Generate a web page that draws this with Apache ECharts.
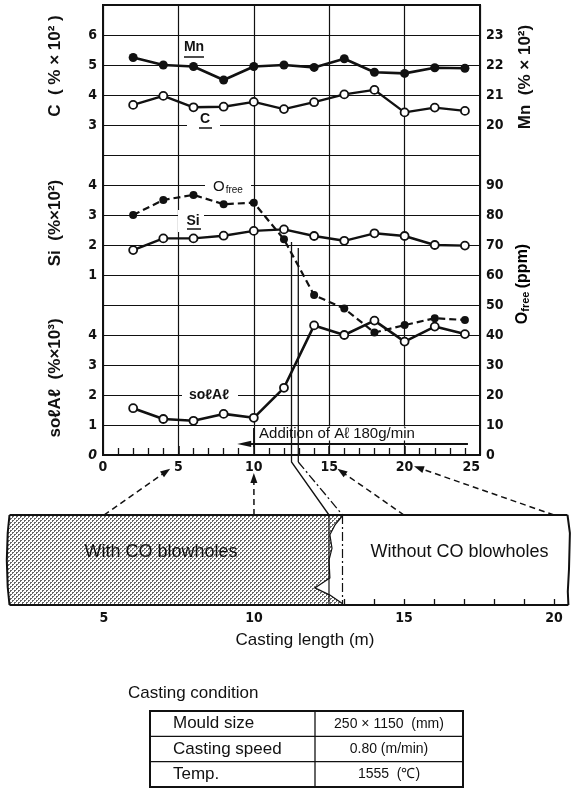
<!DOCTYPE html>
<html>
<head>
<meta charset="utf-8">
<script src="https://cdn.jsdelivr.net/npm/echarts@6/dist/echarts.min.js"></script>
<style>
  html, body { margin: 0; padding: 0; background: #fff; }
  #chart { width: 575px; height: 789px; }
</style>
</head>
<body>
<div id="chart"></div>
<script>
// Sampling positions along the strand (upper length axis)
const castPos = [2, 4, 6, 8, 10, 12, 14, 16, 18, 20, 22, 24];
// Analysed contents at each sampling position
const mnVals    = [22.25, 22.0, 21.95, 21.5, 21.95, 22.0, 21.92, 22.21, 21.76, 21.72, 21.91, 21.89];
const cVals     = [3.67, 3.97, 3.59, 3.61, 3.77, 3.53, 3.76, 4.02, 4.17, 3.42, 3.58, 3.47];
const siVals    = [1.83, 2.22, 2.22, 2.31, 2.47, 2.52, 2.30, 2.14, 2.39, 2.30, 2.00, 1.98];
const oFreeVals = [80, 85, 86.7, 83.6, 84.1, 71.9, 53.3, 48.8, 40.8, 43.3, 45.6, 45];
const solAlVals = [1.56, 1.20, 1.14, 1.37, 1.24, 2.24, 4.32, 4.00, 4.48, 3.78, 4.28, 4.03];

// Tick labels shown on each scale
const lengthTicks = [0, 5, 10, 15, 20, 25];
const cTicks  = [3, 4, 5, 6];
const mnTicks = [20, 21, 22, 23];
const siTicks = [1, 2, 3, 4];
const oTicks  = [0, 10, 20, 30, 40, 50, 60, 70, 80, 90];
const alTicks = [0, 1, 2, 3, 4];
const slabTicks  = [5, 10, 15, 20];
const slabMeters = [2, 3, 4, 5, 6, 7, 8, 9, 10, 11, 12, 13, 14, 15, 16, 17, 18, 19, 20];

// Slab sketch: extent (m), the two transition lines (m) and the blowhole front [m, fraction of thickness]
const slabSpan = [1.85, 20.5];
const coBoundary = [12.5, 12.95];
const blowholeFront = [[12.97, 1], [12.7, 0.89], [12.53, 0.78], [12.6, 0.63], [12.5, 0.5],
                       [12.53, 0.3], [12.03, 0.19], [12.53, 0.11], [12.93, 0.02], [12.97, 0]];
// Sample positions linked between the slab and the upper axis
const arrowLinks = [5, 10, 15, 20];
// Al addition: start of feeding and arrow extent on the upper axis
const alAddStart = 10;
const alArrow = [8.9, 24.2];

const INK = '#111';
const FONT_NUM = "'Liberation Sans Narrow','DejaVu Sans Condensed','Liberation Sans',sans-serif";
const FONT_TXT = "'Liberation Sans','Arial','Helvetica',sans-serif";

function numLabel(list, extra) {
  return Object.assign({
    color: INK, fontFamily: FONT_NUM, fontWeight: 'bold', fontSize: 14, margin: 6,
    formatter: v => (list.indexOf(v) >= 0 ? String(v) : '')
  }, extra || {});
}

function yAx(min, max, interval, list, pos, extra) {
  return Object.assign({
    type: 'value', gridIndex: 0, min: min, max: max, interval: interval, position: pos,
    axisLine: { show: false }, axisTick: { show: false }, splitLine: { show: false },
    axisLabel: numLabel(list)
  }, extra || {});
}

// Fine halftone dots for the blowhole zone
function stipple() {
  const c = document.createElement('canvas');
  c.width = 4; c.height = 4;
  const g = c.getContext('2d');
  g.fillStyle = '#fff'; g.fillRect(0, 0, 4, 4);
  g.fillStyle = '#666';
  g.fillRect(0, 0, 2, 1); g.fillRect(0, 1, 1, 1);
  g.fillRect(2, 2, 2, 1); g.fillRect(2, 3, 1, 1);
  return c;
}
const stipplePattern = { image: stipple(), repeat: 'repeat' };

const pts = vals => castPos.map((x, i) => [x, vals[i]]);
const openSym = { symbol: 'circle', symbolSize: 8, showAllSymbol: true,
  itemStyle: { color: '#fff', borderColor: INK, borderWidth: 1.8 } };

function renderSlab(params, api) {
  const p = (x, f) => api.coord([x, f]);
  const x0 = slabSpan[0], x1 = slabSpan[1];
  const leftEdge = [[x0, 1], [x0 - 0.06, 0.8], [x0 - 0.09, 0.5], [x0 - 0.06, 0.2], [x0, 0]];
  const rightEdge = [[x1 - 0.05, 1], [x1 + 0.03, 0.8], [x1, 0.4], [x1 - 0.04, 0.15], [x1 - 0.02, 0]];
  const front = blowholeFront.slice();
  const poly = leftEdge.concat(front.slice().reverse()).map(q => p(q[0], q[1]));
  const children = [
    { type: 'polygon', shape: { points: poly }, style: { fill: stipplePattern, stroke: null } },
    { type: 'polyline', shape: { points: front.map(q => p(q[0], q[1])) },
      style: { stroke: INK, lineWidth: 1.2, fill: null } },
    { type: 'line', shape: { x1: p(coBoundary[0], 1)[0], y1: p(0, 1)[1], x2: p(coBoundary[0], 0)[0], y2: p(0, 0)[1] },
      style: { stroke: INK, lineWidth: 1.2 } },
    { type: 'line', shape: { x1: p(coBoundary[1], 1)[0], y1: p(0, 1)[1], x2: p(coBoundary[1], 0)[0], y2: p(0, 0)[1] },
      style: { stroke: INK, lineWidth: 1.2, lineDash: [9, 3, 2, 3] } },
    { type: 'polyline', shape: { points: leftEdge.map(q => p(q[0], q[1])) }, style: { stroke: INK, lineWidth: 2, fill: null } },
    { type: 'polyline', shape: { points: rightEdge.map(q => p(q[0], q[1])) }, style: { stroke: INK, lineWidth: 2, fill: null } },
    { type: 'line', shape: { x1: p(x0, 1)[0], y1: p(x0, 1)[1], x2: p(x1 - 0.05, 1)[0], y2: p(x1, 1)[1] },
      style: { stroke: INK, lineWidth: 2 } },
    { type: 'line', shape: { x1: p(x0, 0)[0], y1: p(x0, 0)[1], x2: p(x1 - 0.02, 0)[0], y2: p(x1, 0)[1] },
      style: { stroke: INK, lineWidth: 2 } },
    { type: 'text', x: p(6.9, 0.59)[0], y: p(6.9, 0.59)[1],
      style: { text: 'With CO blowholes', fill: INK, fontSize: 18, fontFamily: FONT_TXT, align: 'center', verticalAlign: 'middle' } },
    { type: 'text', x: p(16.85, 0.59)[0], y: p(16.85, 0.59)[1],
      style: { text: 'Without CO blowholes', fill: INK, fontSize: 18, fontFamily: FONT_TXT, align: 'center', verticalAlign: 'middle' } }
  ];
  return { type: 'group', children: children };
}

const chart = echarts.init(document.getElementById('chart'), null, { renderer: 'canvas' });

const option = {
  animation: false,
  backgroundColor: '#fff',
  grid: [
    { left: 103, top: 5, width: 377, height: 450, show: true, borderColor: INK, borderWidth: 2, backgroundColor: 'transparent' },
    { left: 5, top: 515, width: 570, height: 90, show: false }
  ],
  xAxis: [
    { type: 'value', gridIndex: 0, min: 0, max: 25, interval: 5,
      axisLine: { lineStyle: { color: INK, width: 2 } },
      axisTick: { inside: true, length: 9, lineStyle: { color: INK, width: 1.5 } },
      minorTick: { show: true, splitNumber: 5, length: 7, lineStyle: { color: INK, width: 1.3 } },
      splitLine: { show: true, lineStyle: { color: INK, width: 1.2 } },
      axisLabel: numLabel(lengthTicks, { margin: 5, alignMaxLabel: 'right' }) },
    { type: 'value', gridIndex: 1, min: 1.7, max: 20.7,
      axisLine: { show: false },
      axisTick: { show: true, inside: true, length: 6, customValues: slabMeters, lineStyle: { color: INK, width: 1.3 } },
      splitLine: { show: false },
      axisLabel: Object.assign(numLabel(slabTicks, { margin: 6 }), { customValues: slabTicks }) }
  ],
  yAxis: [
    { type: 'value', gridIndex: 0, min: 0, max: 15, interval: 1,
      axisLine: { show: false }, axisTick: { show: false }, axisLabel: { show: false },
      splitLine: { show: true, lineStyle: { color: INK, width: 1.2 } } },
    yAx(-8, 7, 1, cTicks, 'left', { axisLine: { show: true, lineStyle: { color: INK, width: 2 } } }),
    yAx(-5, 10, 1, siTicks, 'left'),
    yAx(0, 15, 1, alTicks, 'left', {
      axisLabel: {
        color: INK, fontFamily: FONT_NUM, fontWeight: 'bold', fontSize: 14, margin: 6,
        formatter: v => (v === 0 ? '{i|0}' : (alTicks.indexOf(v) >= 0 ? String(v) : '')),
        rich: { i: { fontStyle: 'italic', fontWeight: 'bold', fontSize: 14, fontFamily: FONT_NUM, color: INK } }
      }
    }),
    yAx(9, 24, 1, mnTicks, 'right', { axisLine: { show: true, lineStyle: { color: INK, width: 2 } } }),
    yAx(0, 150, 10, oTicks, 'right'),
    { type: 'value', gridIndex: 1, min: 0, max: 1, show: false }
  ],
  series: [
    { type: 'line', name: 'Mn', xAxisIndex: 0, yAxisIndex: 4, data: pts(mnVals),
      symbol: 'circle', symbolSize: 9, showAllSymbol: true, itemStyle: { color: INK },
      lineStyle: { color: INK, width: 2.6 }, z: 4 },
    Object.assign({ type: 'line', name: 'C', xAxisIndex: 0, yAxisIndex: 1, data: pts(cVals),
      lineStyle: { color: INK, width: 2.4 }, z: 4 }, openSym),
    Object.assign({ type: 'line', name: 'Si', xAxisIndex: 0, yAxisIndex: 2, data: pts(siVals),
      lineStyle: { color: INK, width: 2.4 }, z: 4 }, openSym),
    { type: 'line', name: 'Ofree', xAxisIndex: 0, yAxisIndex: 5, data: pts(oFreeVals),
      symbol: 'circle', symbolSize: 8, showAllSymbol: true, itemStyle: { color: INK },
      lineStyle: { color: INK, width: 2.2, type: [7, 4] }, z: 3 },
    Object.assign({ type: 'line', name: 'solAl', xAxisIndex: 0, yAxisIndex: 3, data: pts(solAlVals),
      lineStyle: { color: INK, width: 2.6 }, z: 4 }, openSym),
    { type: 'custom', name: 'slab', xAxisIndex: 1, yAxisIndex: 6, data: [[slabSpan[0], 0]],
      renderItem: renderSlab, silent: true, z: 2 }
  ]
};
chart.setOption(option);

// Annotations anchored to the axes
const M = (x, y) => chart.convertToPixel({ xAxisIndex: 0, yAxisIndex: 0 }, [x, y]);
const S = (x, f) => chart.convertToPixel({ xAxisIndex: 1, yAxisIndex: 6 }, [x, f]);

function arrowHead(tip, ux, uy, len, half) {
  const bx = tip[0] - ux * len, by = tip[1] - uy * len;
  return { type: 'polygon', z: 6,
    shape: { points: [tip, [bx - uy * half, by + ux * half], [bx + uy * half, by - ux * half]] },
    style: { fill: INK } };
}
function label(x, y, text, size, extra) {
  return Object.assign({ type: 'text', x: x, y: y, z: 6,
    style: { text: text, fill: INK, fontSize: size, fontFamily: FONT_TXT, align: 'center', verticalAlign: 'middle' } }, extra || {});
}
function vLabel(x, y, text, size, rich) {
  return { type: 'text', x: x, y: y, rotation: Math.PI / 2, z: 6,
    style: { text: text, fill: INK, fontSize: size, fontWeight: 'bold', fontFamily: FONT_TXT,
      align: 'center', verticalAlign: 'middle', rich: rich } };
}
function whiteBox(x, y, w, h) {
  return { type: 'rect', z: 1, shape: { x: x, y: y, width: w, height: h }, style: { fill: '#fff' } };
}

const els = [];
const axisY = M(0, 0)[1];

// Transition lines running from the profiles down to the slab
const sTop = S(coBoundary[0], 1), dTop = S(coBoundary[1], 1);
const a0 = M(coBoundary[0], 7.1), a1 = M(coBoundary[0], 0);
const b0 = M(coBoundary[1], 6.9), b1 = M(coBoundary[1], 0);
els.push({ type: 'polyline', z: 5, shape: { points: [a0, a1, [a1[0], a1[1] + 7], sTop] },
  style: { stroke: INK, lineWidth: 1.3, fill: null } });
els.push({ type: 'polyline', z: 5, shape: { points: [b0, b1, [b1[0], b1[1] + 7]] },
  style: { stroke: INK, lineWidth: 1.3, fill: null } });
els.push({ type: 'line', z: 5, shape: { x1: b1[0], y1: b1[1] + 7, x2: dTop[0], y2: dTop[1] },
  style: { stroke: INK, lineWidth: 1.3, lineDash: [9, 3, 2, 3] } });

// Dashed arrows linking slab positions to the upper axis
arrowLinks.forEach(v => {
  const st = S(v, 1);
  const tg = [M(v, 0)[0], axisY + 8];
  const dx = tg[0] - st[0], dy = tg[1] - st[1], L = Math.hypot(dx, dy);
  const ux = dx / L, uy = dy / L;
  const tip = [tg[0] - ux * 10, tg[1] - uy * 10];
  els.push({ type: 'line', z: 5, shape: { x1: st[0], y1: st[1], x2: tip[0] - ux * 8, y2: tip[1] - uy * 8 },
    style: { stroke: INK, lineWidth: 1.5, lineDash: [6, 4] } });
  els.push(arrowHead(tip, ux, uy, 10, 3.5));
});

// Al addition arrow
const alTip = M(alArrow[0], 0.37), alEnd = M(alArrow[1], 0.37);
els.push(whiteBox(M(alAddStart, 0)[0] + 2, M(0, 0.95)[1], alEnd[0] - M(alAddStart, 0)[0] - 2, 14));
els.push({ type: 'line', z: 5, shape: { x1: alEnd[0], y1: alEnd[1], x2: alTip[0] + 12, y2: alTip[1] },
  style: { stroke: INK, lineWidth: 2 } });
els.push(arrowHead(alTip, -1, 0, 14, 3.2));
const tk0 = M(alAddStart, 0.9), tk1 = M(alAddStart, 0.27);
els.push({ type: 'line', z: 5, shape: { x1: tk0[0], y1: tk0[1], x2: tk1[0], y2: tk1[1] },
  style: { stroke: INK, lineWidth: 1.5 } });
const alTxt = M(alAddStart + 0.35, 0.72);
els.push(label(alTxt[0], alTxt[1], 'Addition of A\u2113 180g/min', 15, {
  style: { text: 'Addition of A\u2113 180g/min', fill: INK, fontSize: 15, fontFamily: FONT_TXT, align: 'left', verticalAlign: 'middle' } }));

// Curve labels
els.push(label(194, 47, 'Mn', 14, { style: { text: 'Mn', fill: INK, fontSize: 14, fontWeight: 'bold', fontFamily: FONT_TXT, align: 'center', verticalAlign: 'middle' } }));
els.push({ type: 'line', z: 6, shape: { x1: 184, y1: 57, x2: 204, y2: 57 }, style: { stroke: INK, lineWidth: 1.5 } });
els.push(whiteBox(187, 113, 33, 17));
els.push(label(205, 119, 'C', 14, { style: { text: 'C', fill: INK, fontSize: 14, fontWeight: 'bold', fontFamily: FONT_TXT, align: 'center', verticalAlign: 'middle' } }));
els.push({ type: 'line', z: 6, shape: { x1: 199, y1: 128, x2: 212, y2: 128 }, style: { stroke: INK, lineWidth: 1.5 } });
els.push(whiteBox(178, 210, 26, 22));
els.push(label(193, 221, 'Si', 14, { style: { text: 'Si', fill: INK, fontSize: 14, fontWeight: 'bold', fontFamily: FONT_TXT, align: 'center', verticalAlign: 'middle' } }));
els.push({ type: 'line', z: 6, shape: { x1: 187, y1: 229, x2: 201, y2: 229 }, style: { stroke: INK, lineWidth: 1.5 } });
els.push(whiteBox(205, 179, 46, 15));
els.push({ type: 'text', x: 213, y: 187, z: 6, style: {
  text: '{o|O}{s|free}', verticalAlign: 'middle', align: 'left',
  rich: { o: { fontSize: 15, fontFamily: FONT_TXT, fill: INK, color: INK },
          s: { fontSize: 10, fontFamily: FONT_TXT, fill: INK, color: INK, padding: [6, 0, 0, 1] } } } });
els.push(whiteBox(182, 386, 56, 18));
els.push(label(209, 395, 'so\u2113A\u2113', 14, { style: { text: 'so\u2113A\u2113', fill: INK, fontSize: 14, fontWeight: 'bold', fontFamily: FONT_TXT, align: 'center', verticalAlign: 'middle' } }));

// Axis titles
els.push(vLabel(55, 66, 'C  ( % \u00d7 10\u00b2 )', 17));
els.push(vLabel(55, 223, 'Si  (%\u00d710\u00b2)', 17));
els.push(vLabel(55, 378, 'so\u2113A\u2113  (%\u00d710\u00b3)', 17));
els.push(vLabel(525, 77, 'Mn  (% \u00d7 10\u00b2)', 17));
els.push({ type: 'text', x: 523, y: 284, rotation: Math.PI / 2, z: 6, style: {
  text: '{o|O}{s|free} {o|(ppm)}', align: 'center', verticalAlign: 'middle',
  rich: { o: { fontSize: 16, fontWeight: 'bold', fontFamily: FONT_TXT, color: INK },
          s: { fontSize: 11, fontWeight: 'bold', fontFamily: FONT_TXT, color: INK, padding: [6, 0, 0, 0] } } } });

// Lower axis title
els.push(label(305, 640, 'Casting length (m)', 17));

// Casting condition table
const tableRows = [['Mould size', '250 \u00d7 1150  (mm)'], ['Casting speed', '0.80 (m/min)'], ['Temp.', '1555  (\u2103)']];
els.push({ type: 'text', x: 128, y: 693, z: 6, style: { text: 'Casting condition', fill: INK, fontSize: 17, fontFamily: FONT_TXT, align: 'left', verticalAlign: 'middle' } });
const tx0 = 150, tx1 = 463, txm = 315, ty0 = 711, rowH = 25.3;
els.push({ type: 'rect', z: 6, shape: { x: tx0, y: ty0, width: tx1 - tx0, height: rowH * 3 },
  style: { fill: null, stroke: INK, lineWidth: 2 } });
els.push({ type: 'line', z: 6, shape: { x1: txm, y1: ty0, x2: txm, y2: ty0 + rowH * 3 }, style: { stroke: INK, lineWidth: 1.3 } });
tableRows.forEach((r, i) => {
  const yc = ty0 + rowH * (i + 0.5);
  if (i > 0) els.push({ type: 'line', z: 6, shape: { x1: tx0, y1: ty0 + rowH * i, x2: tx1, y2: ty0 + rowH * i }, style: { stroke: INK, lineWidth: 1.3 } });
  els.push({ type: 'text', x: 173, y: yc, z: 6, style: { text: r[0], fill: INK, fontSize: 17, fontFamily: FONT_TXT, align: 'left', verticalAlign: 'middle' } });
  els.push({ type: 'text', x: (txm + tx1) / 2, y: yc, z: 6, style: { text: r[1], fill: INK, fontSize: 14, fontFamily: FONT_TXT, align: 'center', verticalAlign: 'middle' } });
});

chart.setOption({ graphic: { elements: els } });
</script>
</body>
</html>
